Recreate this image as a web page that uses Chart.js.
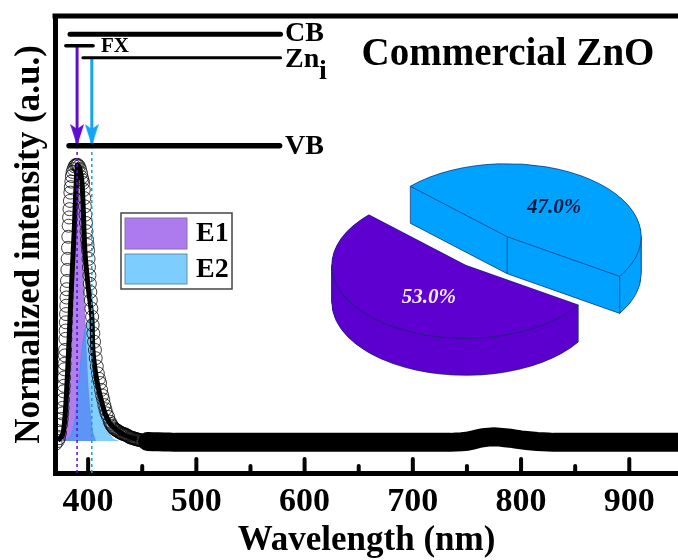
<!DOCTYPE html>
<html>
<head>
<meta charset="utf-8">
<title>Commercial ZnO</title>
<script src="https://cdn.jsdelivr.net/npm/chart.js@4"></script>
<style>
  body { margin: 0; background: #fff; }
  #wrap { position: relative; width: 678px; height: 560px; overflow: hidden; }
  #main { position: absolute; left: 0; top: 0; }
  #pie { position: absolute; left: 286px; top: 51px; }
</style>
</head>
<body>
<div id="wrap">
  <canvas id="main" width="678" height="560"></canvas>
  <canvas id="pie" width="401" height="400"></canvas>
</div>
<script>
const SERIF = "'Liberation Serif', serif";

const xTicks = [400, 500, 600, 700, 800, 900];
const xMinorTicks = [450, 550, 650, 750, 850];

// open circles round the peak, read up the left side and down the right side
const peakX = [370,372,373,374,375,375.6,376,376.4,376.8,377.2,377.5,377.8,378,378.2,378.5,378.7,379,379.2,379.4,379.6,379.8,380,380.2,380.5,380.8,381.1,381.4,381.7,382,382.4,382.8,383.2,383.6,384,384.5,385,385.7,386.5,387.5,388.5,389.5,390.5,391.5,392.5,393.5,394.2,394.8,395.4,396,396.5,397,397.5,398,398.5,399,399.5,400,400.4,400.8,401.2,401.6,402,402.5,403,403.7,404.2,404.8,405.5,406.3,407,408,409,410,411,412,413,414,415,416,417,418.5,420,421,422,423,424,425,426,427,428,429,430,431,432,433,434,435,436,437,438,439,440,441,442,443,444,445,446,447,448,449,450,451,452,453,454,455,456,457,458,459,460];
const peakY = [-0.01,0,0.01,0.03,0.06,0.08,0.1,0.12,0.15,0.18,0.2,0.23,0.26,0.28,0.31,0.33,0.37,0.4,0.43,0.46,0.49,0.52,0.55,0.58,0.62,0.66,0.7,0.74,0.78,0.81,0.84,0.87,0.9,0.92,0.94,0.96,0.975,0.985,0.995,1,1,1,0.995,0.985,0.97,0.955,0.945,0.935,0.91,0.88,0.85,0.82,0.79,0.76,0.73,0.71,0.69,0.66,0.63,0.6,0.57,0.54,0.51,0.48,0.45,0.42,0.39,0.36,0.33,0.3,0.27,0.245,0.225,0.21,0.185,0.165,0.15,0.13,0.115,0.1,0.087,0.07,0.062,0.055,0.05,0.045,0.042,0.04,0.037,0.035,0.032,0.03,0.028,0.026,0.025,0.024,0.022,0.02,0.018,0.015,0.013,0.012,0.011,0.01,0.008,0.007,0.006,0.005,0.004,0.003,0.002,0.001,0,0,-0.001,-0.001,-0.002,-0.002,-0.002,-0.003,-0.003,-0.003];

// long flat tail, the circles merge into one black band here
const tailX = [455,460,465,470,475,480,485,490,495,500,505,510,515,520,525,530,535,540,545,550,555,560,565,570,575,580,585,590,595,600,605,610,615,620,625,630,635,640,645,650,655,660,665,670,675,680,685,690,695,700,705,710,715,720,725,730,735,740,745,750,755,760,765,770,775,780,785,790,795,800,805,810,815,820,825,830,835,840,845,850,855,860,865,870,875,880,885,890,895,900,905,910,915,920,925,930,935,940,945];
const tailY = [-0.002,-0.003,-0.003,-0.004,-0.004,-0.005,-0.005,-0.005,-0.005,-0.005,-0.005,-0.005,-0.005,-0.005,-0.005,-0.005,-0.005,-0.005,-0.005,-0.005,-0.005,-0.005,-0.005,-0.005,-0.005,-0.005,-0.005,-0.005,-0.005,-0.005,-0.005,-0.005,-0.005,-0.005,-0.005,-0.005,-0.005,-0.005,-0.005,-0.005,-0.005,-0.005,-0.005,-0.005,-0.005,-0.005,-0.005,-0.005,-0.005,-0.005,-0.005,-0.005,-0.005,-0.005,-0.005,-0.005,-0.005,-0.004,-0.003,-0.001,0.003,0.008,0.012,0.014,0.015,0.014,0.012,0.01,0.007,0.004,0.002,0,-0.002,-0.003,-0.004,-0.005,-0.005,-0.005,-0.005,-0.005,-0.005,-0.005,-0.005,-0.005,-0.005,-0.005,-0.005,-0.005,-0.005,-0.005,-0.005,-0.005,-0.005,-0.005,-0.005,-0.005,-0.005,-0.005,-0.005];

// thick fitted line through the peak
const fitX = [372,377,380.5,384,387,390,392,394.4,397,400,403.4,404.6,408,412,415.7,420,425,429.6,436,445];
const fitY = [0,0.03,0.21,0.51,0.75,1,0.99,0.935,0.69,0.56,0.45,0.32,0.22,0.15,0.1,0.065,0.045,0.03,0.018,0.006];

const e1X = [372,376,380,384,387,390,393,396,400,404,407];
const e1Y = [0,0.03,0.2,0.55,0.85,0.97,0.85,0.55,0.2,0.04,0];
const e2X = [378,384,388,392,396,400,403,406,409,412,416,420,424,428];
const e2Y = [0,0.02,0.08,0.24,0.38,0.44,0.42,0.33,0.22,0.14,0.07,0.025,0.005,0];

// energy level diagram
const cbX = [383.3, 577.8],  cbY = [1.474, 1.474];
const fxX = [379.4, 404.6],  fxY = [1.432, 1.432];
const zniX = [395.1, 577.8], zniY = [1.389, 1.389];
const vbX = [382.4, 576.9],  vbY = [1.07, 1.07];
const arrow1X = [389.8, 389.8, 389.8], arrow1Y = [1.432, 1.109, 1.075];
const arrow2X = [403.4, 403.4, 403.4], arrow2Y = [1.389, 1.109, 1.075];
const drop1X = [389.8, 389.8], drop2X = [403.4, 403.4], dropY = [-0.116, 1.06];

const pieNames = ['E1', 'E2'];
const pieValues = [53.0, 47.0];
const pieColors = ['#5e00cf', '#00a2ff'];

function zip(xs, ys) { return xs.map((x, i) => ({ x: x, y: ys[i] })); }

function level(xs, ys, width) {
  return { data: zip(xs, ys), borderColor: '#000', borderWidth: width, borderCapStyle: 'round', pointRadius: 0, order: 1 };
}

// barbed arrow head used as a point style
function arrowHead(color) {
  const c = document.createElement('canvas');
  c.width = 14; c.height = 22;
  const g = c.getContext('2d');
  g.fillStyle = color;
  g.beginPath();
  g.moveTo(0, 0); g.lineTo(7, 5); g.lineTo(14, 0); g.lineTo(7, 22);
  g.closePath();
  g.fill();
  return c;
}

function arrow(xs, ys, color) {
  return {
    data: zip(xs, ys), borderColor: color, borderWidth: 3, order: 2,
    pointRadius: [0, 1, 0], pointStyle: arrowHead(color)
  };
}

const decorPlugin = {
  id: 'decor',
  afterDraw(chart) {
    const ctx = chart.ctx, x = chart.scales.x, area = chart.chartArea;
    ctx.save();
    // inward ticks
    ctx.strokeStyle = '#000';
    ctx.lineCap = 'round';
    ctx.lineWidth = 4;
    xTicks.forEach(v => {
      ctx.beginPath();
      ctx.moveTo(x.getPixelForValue(v), area.bottom);
      ctx.lineTo(x.getPixelForValue(v), area.bottom - 14);
      ctx.stroke();
    });
    xMinorTicks.forEach(v => {
      ctx.beginPath();
      ctx.moveTo(x.getPixelForValue(v), area.bottom);
      ctx.lineTo(x.getPixelForValue(v), area.bottom - 7);
      ctx.stroke();
    });
    ctx.lineCap = 'butt';
    ctx.lineWidth = 5;
    ctx.beginPath();
    ctx.moveTo(area.left - 2.5, area.top);
    ctx.lineTo(area.right, area.top);
    ctx.stroke();

    // labels on the diagram
    ctx.fillStyle = '#000';
    ctx.textBaseline = 'middle';
    ctx.textAlign = 'left';
    ctx.font = 'bold 28px ' + SERIF;
    ctx.fillText('CB', 285, 34);
    ctx.fillText('Zn', 285, 60);
    ctx.fillText('i', 319, 72);
    ctx.fillText('VB', 285, 147);
    ctx.font = 'bold 21px ' + SERIF;
    ctx.fillText('FX', 101, 47);
    ctx.font = 'bold 39px ' + SERIF;
    ctx.textAlign = 'center';
    ctx.fillText('Commercial ZnO', 508, 55);

    // legend box
    ctx.textAlign = 'left';
    ctx.strokeStyle = '#444';
    ctx.lineWidth = 1.5;
    ctx.strokeRect(121, 213, 111, 76);
    ctx.lineWidth = 1;
    ctx.fillStyle = '#ae7bee';
    ctx.strokeStyle = '#8a6ca8';
    ctx.fillRect(125, 218, 62, 31);
    ctx.strokeRect(125, 218, 62, 31);
    ctx.fillStyle = '#7dcdff';
    ctx.strokeStyle = '#5f8ca8';
    ctx.fillRect(125, 254, 62, 30);
    ctx.strokeRect(125, 254, 62, 30);
    ctx.fillStyle = '#000';
    ctx.font = 'bold 28px ' + SERIF;
    ctx.fillText(pieNames[0], 196, 234);
    ctx.fillText(pieNames[1], 196, 270);
    ctx.restore();
  }
};

new Chart(document.getElementById('main'), {
  type: 'line',
  data: {
    datasets: [
      level(cbX, cbY, 5),
      level(fxX, fxY, 3.5),
      level(zniX, zniY, 3),
      level(vbX, vbY, 5.5),
      arrow(arrow1X, arrow1Y, '#5e0fcf'),
      arrow(arrow2X, arrow2Y, '#12a5f5'),
      { data: zip(drop1X, dropY), borderColor: '#5e0fcf', borderWidth: 1.5, borderDash: [3, 3], pointRadius: 0, order: 3 },
      { data: zip(drop2X, dropY), borderColor: '#1b9fc8', borderWidth: 1.5, borderDash: [3, 3], pointRadius: 0, order: 3 },
      { data: zip(fitX, fitY), borderColor: '#000', borderWidth: 5, tension: 0.3, pointRadius: 0, order: 4 },
      { data: zip(tailX, tailY), borderColor: '#000', borderWidth: 19, borderCapStyle: 'round', pointRadius: 0, order: 5 },
      { data: zip(peakX, peakY), showLine: false, pointRadius: 6.5, pointBorderWidth: 1, pointBorderColor: 'rgba(0,0,0,0.75)', pointBackgroundColor: 'transparent', order: 6 },
      { data: zip(e2X, e2Y), borderColor: 'rgba(0,150,255,0.4)', borderWidth: 1, backgroundColor: 'rgba(30,165,255,0.55)', fill: { value: 0 }, tension: 0.3, pointRadius: 0, order: 7 },
      { data: zip(e1X, e1Y), borderColor: 'rgba(120,60,220,0.4)', borderWidth: 1, backgroundColor: 'rgba(130,60,225,0.65)', fill: { value: 0 }, tension: 0.3, pointRadius: 0, order: 8 }
    ]
  },
  options: {
    responsive: false,
    animation: false,
    devicePixelRatio: 1,
    layout: { autoPadding: false, padding: { top: 16, left: 0, right: 0, bottom: 0 } },
    plugins: { legend: { display: false }, tooltip: { enabled: false } },
    scales: {
      x: {
        type: 'linear',
        min: 369.4,
        max: 945,
        grid: { display: false },
        border: { display: true, width: 5, color: '#000' },
        afterBuildTicks: s => { s.ticks = xTicks.map(v => ({ value: v })); },
        afterFit: s => { s.height = 87; s.paddingLeft = 0; s.paddingRight = 0; },
        ticks: { color: '#000', padding: 1, maxRotation: 0, font: { family: SERIF, size: 34, weight: 'bold' } },
        title: {
          display: true, text: 'Wavelength (nm)', color: '#000', padding: { top: 0, bottom: -2 },
          font: { family: SERIF, size: 35, weight: 'bold' }
        }
      },
      y: {
        min: -0.116,
        max: 1.54,
        grid: { display: false },
        border: { display: true, width: 5, color: '#000' },
        ticks: { display: false },
        afterFit: s => { s.width = 55; },
        title: {
          display: true, text: 'Normalized intensity (a.u.)', color: '#000', padding: { top: 9, bottom: 0 },
          font: { family: SERIF, size: 35, weight: 'bold' }
        }
      }
    }
  },
  plugins: [decorPlugin]
});

// the pie is a normal pie chart, flattened and extruded by this plugin
const SQUASH = 0.545, DEPTH = 37 / SQUASH, PULL = 33.4, WALL = '#0c2a66';
const pieLabelOffsets = [[-37, 32], [47, -29]];
const pieLabelColors = ['#f4ecff', '#001a40'];

function sector(ctx, a, dy) {
  ctx.beginPath();
  ctx.moveTo(a.x, a.y + dy);
  ctx.arc(a.x, a.y + dy, a.outerRadius, a.startAngle, a.endAngle);
  ctx.closePath();
}

function strokeLine(ctx, x0, y0, x1, y1) {
  ctx.beginPath();
  ctx.moveTo(x0, y0);
  ctx.lineTo(x1, y1);
  ctx.stroke();
}

function drawWalls(ctx, a, color) {
  ctx.fillStyle = color;
  for (let d = DEPTH; d > 0; d -= 0.5) {
    sector(ctx, a, d);
    ctx.fill();
  }
  const r = a.outerRadius;
  const sx = a.x + Math.cos(a.startAngle) * r, sy = a.y + Math.sin(a.startAngle) * r;
  const ex = a.x + Math.cos(a.endAngle) * r, ey = a.y + Math.sin(a.endAngle) * r;
  ctx.strokeStyle = WALL;
  ctx.lineWidth = 0.9;
  const back = Math.sin((a.startAngle + a.endAngle) / 2) < 0;
  if (back) {
    // cut faces look at the viewer
    ctx.beginPath();
    ctx.moveTo(sx, sy + DEPTH);
    ctx.lineTo(a.x, a.y + DEPTH);
    ctx.lineTo(ex, ey + DEPTH);
    ctx.arc(a.x, a.y + DEPTH, r, a.endAngle, Math.PI * 2, true);
    ctx.stroke();
    strokeLine(ctx, sx, sy, sx, sy + DEPTH);
    strokeLine(ctx, a.x, a.y, a.x, a.y + DEPTH);
    strokeLine(ctx, ex, ey, ex, ey + DEPTH);
    strokeLine(ctx, a.x + r, a.y, a.x + r, a.y + DEPTH);
  } else {
    ctx.beginPath();
    ctx.arc(a.x, a.y + DEPTH, r, a.startAngle, Math.PI);
    ctx.stroke();
    strokeLine(ctx, sx, sy, sx, sy + DEPTH);
    strokeLine(ctx, a.x - r, a.y, a.x - r, a.y + DEPTH);
  }
}

const extrudePlugin = {
  id: 'extrude',
  afterDatasetsUpdate(chart) {
    chart.getDatasetMeta(0).data.forEach(a => {
      const mid = (a.startAngle + a.endAngle) / 2;
      a.x += Math.cos(mid) * PULL;
      a.y += Math.sin(mid) * PULL;
    });
  },
  beforeDatasetsDraw(chart) {
    const ctx = chart.ctx, cx = chart.width / 2, cy = chart.height / 2;
    ctx.save();
    ctx.translate(cx, cy);
    ctx.scale(1, SQUASH);
    ctx.translate(-cx, -cy);
    const arcs = chart.getDatasetMeta(0).data;
    drawWalls(ctx, arcs[1], pieColors[1]);
    drawWalls(ctx, arcs[0], pieColors[0]);
  },
  afterDatasetsDraw(chart) {
    const ctx = chart.ctx, cy = chart.height / 2;
    ctx.restore();
    ctx.save();
    ctx.font = 'italic bold 21px ' + SERIF;
    ctx.textAlign = 'center';
    ctx.textBaseline = 'middle';
    chart.getDatasetMeta(0).data.forEach((a, i) => {
      const px = a.x;
      const py = cy + (a.y - cy) * SQUASH;
      ctx.fillStyle = pieLabelColors[i];
      ctx.fillText(pieValues[i].toFixed(1) + '%', px + pieLabelOffsets[i][0], py + pieLabelOffsets[i][1]);
    });
    ctx.restore();
  }
};

new Chart(document.getElementById('pie'), {
  type: 'pie',
  data: {
    labels: pieNames,
    datasets: [{ data: pieValues, backgroundColor: pieColors, borderColor: WALL, borderWidth: 0.9 }]
  },
  options: {
    responsive: false,
    animation: false,
    devicePixelRatio: 1,
    radius: 134,
    rotation: 122.9,
    layout: { padding: 0 },
    plugins: { legend: { display: false }, tooltip: { enabled: false } }
  },
  plugins: [extrudePlugin]
});
</script>
</body>
</html>
